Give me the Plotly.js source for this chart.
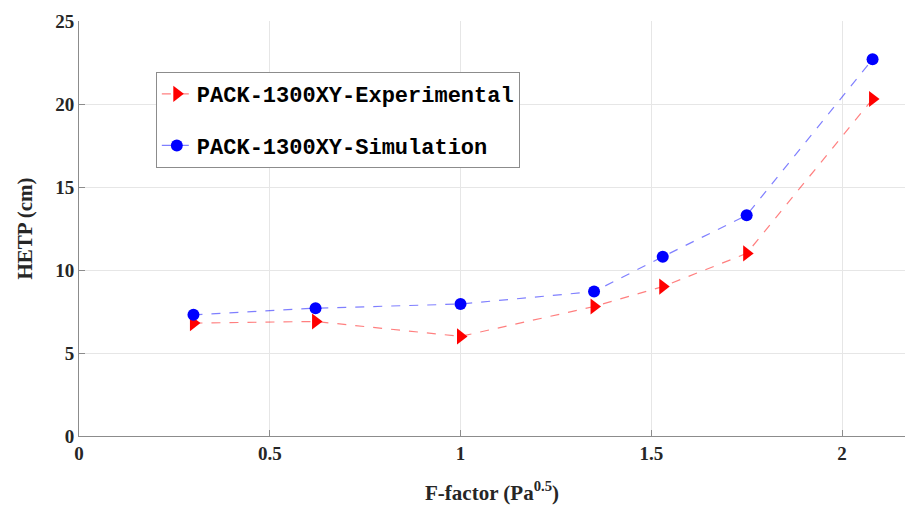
<!DOCTYPE html>
<html>
<head>
<meta charset="utf-8">
<script src="https://cdn.plot.ly/plotly-3.0.1.min.js"></script>
<style>html,body{margin:0;padding:0;background:#fff;}#chart{width:907px;height:510px;}</style>
</head>
<body>
<div id="chart"></div>
<script>
var fFactor = [0.30, 0.62, 1.00, 1.35, 1.53, 1.75, 2.08];
var hetpExperimental = [6.8, 6.9, 6.0, 7.8, 9.0, 11.0, 20.3];
var hetpSimulation = [7.3, 7.7, 7.95, 8.7, 10.8, 13.3, 22.7];
var xTicks = [0, 0.5, 1, 1.5, 2];
var xTickLabels = ['0', '0.5', '1', '1.5', '2'];
var yTicks = [0, 5, 10, 15, 20, 25];
var yTickLabels = ['0', '5', '10', '15', '20', '25'];

var traces = [
  {
    x: fFactor, y: hetpExperimental, type: 'scatter', mode: 'lines+markers',
    name: 'PACK-1300XY-Experimental', legendgroup: 'a',
    line: {color: 'rgba(255,0,0,0.5)', width: 1.2, dash: 'dash'},
    marker: {symbol: 'triangle-right', size: 14, color: '#ff0000'}
  },
  {
    x: fFactor, y: hetpSimulation, type: 'scatter', mode: 'lines+markers',
    name: 'PACK-1300XY-Simulation', legendgroup: 'b',
    line: {color: 'rgba(0,0,255,0.5)', width: 1.2, dash: 'dash'},
    marker: {symbol: 'circle', size: 12, color: '#0000ff'}
  }
];

var tickFont = {family: 'Liberation Serif, Times New Roman, serif', size: 19, color: '#262626'};
var layout = {
  width: 907, height: 510,
  margin: {l: 79, r: 2, t: 21, b: 74},
  paper_bgcolor: '#fff', plot_bgcolor: '#fff',
  showlegend: true,
  legend: {
    x: 0.093, y: 0.877, xanchor: 'left', yanchor: 'top',
    bgcolor: '#fff', bordercolor: '#8c8c8c', borderwidth: 1,
    font: {family: 'Liberation Mono, Courier New, monospace', size: 22, color: '#000', weight: 'bold'},
    traceorder: 'grouped', tracegroupgap: 20, itemwidth: 30
  },
  xaxis: {
    range: [0, 2.165], tickvals: xTicks, ticktext: xTickLabels,
    ticks: 'inside', ticklen: 6, tickcolor: '#8c8c8c',
    showgrid: true, gridcolor: '#e6e6e6', zeroline: false,
    showline: true, linecolor: '#8c8c8c', linewidth: 1,
    tickfont: Object.assign({weight: 'bold'}, tickFont),
    title: {text: 'F-factor (Pa<sup>0.5</sup>)', standoff: 22,
      font: {family: 'Liberation Serif, Times New Roman, serif', size: 21, color: '#262626', weight: 'bold'}}
  },
  yaxis: {
    range: [0, 25], tickvals: yTicks, ticktext: yTickLabels,
    ticks: 'inside', ticklen: 6, tickcolor: '#8c8c8c',
    showgrid: true, gridcolor: '#e6e6e6', zeroline: false,
    showline: true, linecolor: '#8c8c8c', linewidth: 1,
    tickfont: Object.assign({weight: 'bold'}, tickFont),
    title: {text: 'HETP (cm)', standoff: 16,
      font: {family: 'Liberation Serif, Times New Roman, serif', size: 21, color: '#262626', weight: 'bold'}}
  }
};
Plotly.newPlot('chart', traces, layout, {displayModeBar: false, staticPlot: true});
</script>
</body>
</html>
